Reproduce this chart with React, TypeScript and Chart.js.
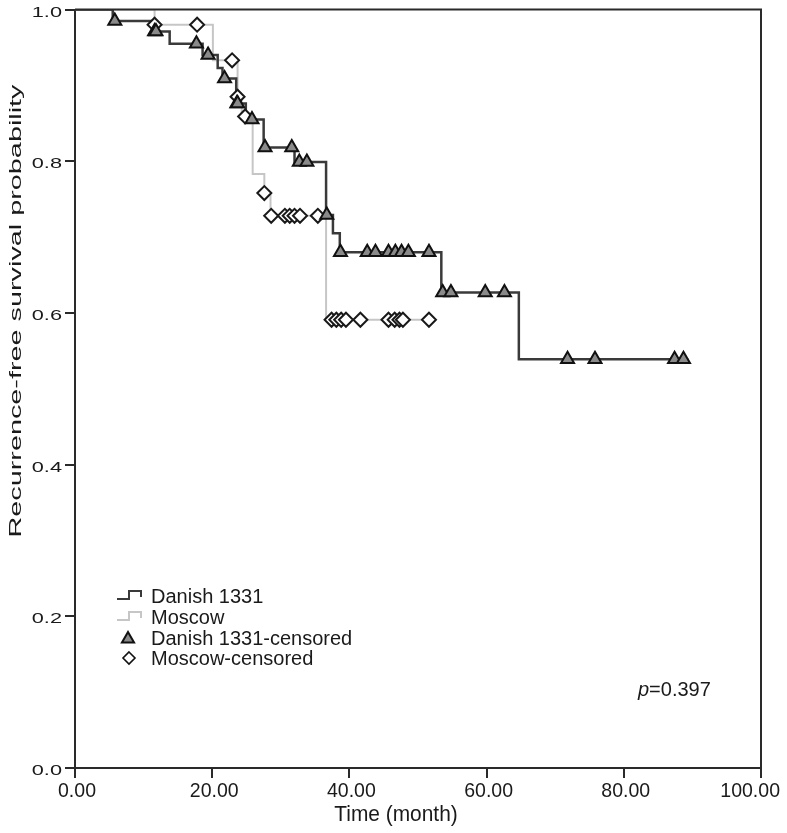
import React, { useEffect, useRef } from 'react';
import { Chart, registerables } from 'chart.js';

Chart.register(...registerables);

// ---- data ----
const xTicks = [0, 20, 40, 60, 80, 100];
const yTicks = [0, 0.2, 0.4, 0.6, 0.8, 1.0];

// Danish 1331: Kaplan-Meier step curve (time, survival after that time)
const danishTimes = [0, 5.5, 11.6, 13.8, 18.6, 20.8, 21.5, 23.5, 24.9, 27.5, 32.0, 36.6, 37.6, 38.6, 53.4, 64.7, 89.4];
const danishSurv = [1.0, 0.985, 0.971, 0.955, 0.94, 0.923, 0.909, 0.876, 0.855, 0.818, 0.799, 0.729, 0.705, 0.68, 0.627, 0.539, 0.539];
const danishCensored = [5.8, 11.6, 11.8, 17.7, 19.4, 21.8, 23.6, 23.7, 25.8, 27.7, 31.6, 32.7, 33.8, 36.7, 38.7, 42.6, 43.8, 45.7, 46.7, 47.6, 48.6, 51.6, 53.6, 54.8, 59.8, 62.6, 71.8, 75.8, 87.4, 88.7];

// Moscow
const moscowTimes = [0, 11.6, 20.1, 23.7, 24.3, 25.9, 27.6, 28.5, 36.6, 51.6];
const moscowSurv = [1.0, 0.98, 0.933, 0.885, 0.859, 0.783, 0.758, 0.728, 0.591, 0.591];
const moscowCensored = [11.6, 17.8, 22.9, 23.7, 24.8, 27.6, 28.6, 30.6, 31.3, 32.0, 32.8, 35.4, 37.4, 38.1, 38.8, 39.5, 41.6, 45.7, 46.6, 47.3, 47.8, 51.6];

const legendLabels = ['Danish 1331', 'Moscow', 'Danish 1331-censored', 'Moscow-censored'];
const pLetter = 'p';
const pValueText = '=0.397';
const xTitle = 'Time (month)';
const yTitle = 'Recurrence-free survival probability';

const DARK = '#3a3a3a';
const LIGHT = '#c6c6c6';
const TEXT = '#1a1a1a';

function survivalAt(times: number[], surv: number[], t: number): number {
  let v = surv[0];
  for (let i = 0; i < times.length; i++) {
    if (times[i] <= t + 1e-9) v = surv[i];
  }
  return v;
}

function drawTriangle(ctx: CanvasRenderingContext2D, x: number, y: number, r: number) {
  ctx.beginPath();
  ctx.moveTo(x, y - r);
  ctx.lineTo(x + r * 0.866, y + r * 0.5);
  ctx.lineTo(x - r * 0.866, y + r * 0.5);
  ctx.closePath();
  ctx.fillStyle = '#8a8a8a';
  ctx.fill();
  ctx.lineWidth = 2;
  ctx.strokeStyle = '#111';
  ctx.stroke();
}

function drawDiamond(ctx: CanvasRenderingContext2D, x: number, y: number, r: number) {
  ctx.beginPath();
  ctx.moveTo(x, y - r);
  ctx.lineTo(x + r, y);
  ctx.lineTo(x, y + r);
  ctx.lineTo(x - r, y);
  ctx.closePath();
  ctx.fillStyle = '#fff';
  ctx.fill();
  ctx.lineWidth = 1.6;
  ctx.strokeStyle = '#111';
  ctx.stroke();
}

const decorPlugin = {
  id: 'decor',
  afterDraw(chart: any) {
    const ctx: CanvasRenderingContext2D = chart.ctx;
    const area = chart.chartArea;
    const xs = chart.scales.x;
    const ys = chart.scales.y;
    ctx.save();

    // frame (top and right)
    ctx.strokeStyle = '#2a2a2a';
    ctx.lineWidth = 2;
    ctx.beginPath();
    ctx.moveTo(area.left, area.top);
    ctx.lineTo(area.right, area.top);
    ctx.lineTo(area.right, area.bottom);
    ctx.stroke();

    ctx.fillStyle = TEXT;

    // y tick labels (stretched)
    ctx.font = '15px "Liberation Sans", Arial, sans-serif';
    ctx.textAlign = 'right';
    ctx.textBaseline = 'middle';
    ys.ticks.forEach((tk: any) => {
      const py = ys.getPixelForValue(tk.value);
      ctx.save();
      ctx.translate(area.left - 13, py + 3);
      ctx.scale(1.45, 1);
      ctx.fillText(Number(tk.value).toFixed(1), 0, 0);
      ctx.restore();
    });

    // x tick labels (condensed)
    ctx.font = '21px "Liberation Sans", Arial, sans-serif';
    ctx.textAlign = 'center';
    const sx = 0.93;
    const maxRight = chart.width - 7;
    xs.ticks.forEach((tk: any) => {
      const label = Number(tk.value).toFixed(2);
      let px = xs.getPixelForValue(tk.value) + 2;
      const half = (ctx.measureText(label).width * sx) / 2;
      if (px + half > maxRight) px = maxRight - half;
      ctx.save();
      ctx.translate(px, area.bottom + 23);
      ctx.scale(sx, 1);
      ctx.fillText(label, 0, 0);
      ctx.restore();
    });

    // x title
    ctx.save();
    ctx.font = '22px "Liberation Sans", Arial, sans-serif';
    ctx.translate(area.left + 321, area.bottom + 47);
    ctx.scale(0.95, 1);
    ctx.fillText(xTitle, 0, 0);
    ctx.restore();

    // y title (rotated, stretched)
    ctx.save();
    ctx.font = '16px "Liberation Sans", Arial, sans-serif';
    ctx.translate(17, 311);
    ctx.rotate(-Math.PI / 2);
    ctx.scale(1.8, 1);
    ctx.textAlign = 'center';
    ctx.fillText(yTitle, 0, 0);
    ctx.restore();

    // legend
    const lx = area.left + 42;
    const tx = area.left + 76;
    const rowY = [596, 617, 638, 658];
    ctx.font = '20px "Liberation Sans", Arial, sans-serif';
    ctx.textAlign = 'left';
    ctx.textBaseline = 'middle';
    const drawStep = (cy: number, color: string) => {
      ctx.beginPath();
      ctx.moveTo(lx, cy + 3);
      ctx.lineTo(lx + 12, cy + 3);
      ctx.lineTo(lx + 12, cy - 5);
      ctx.lineTo(lx + 24, cy - 5);
      ctx.lineTo(lx + 24, cy + 1);
      ctx.strokeStyle = color;
      ctx.lineWidth = 2;
      ctx.stroke();
    };
    drawStep(rowY[0], DARK);
    drawStep(rowY[1], LIGHT);
    drawTriangle(ctx, lx + 11, rowY[2] + 1, 7);
    drawDiamond(ctx, lx + 12, rowY[3], 6);
    ctx.fillStyle = TEXT;
    legendLabels.forEach((lab, i) => ctx.fillText(lab, tx, rowY[i] + 1));

    // p-value
    ctx.font = 'italic 20px "Liberation Sans", Arial, sans-serif';
    const px0 = 638;
    const py0 = 690;
    ctx.fillText(pLetter, px0, py0);
    const w = ctx.measureText(pLetter).width;
    ctx.font = '20px "Liberation Sans", Arial, sans-serif';
    ctx.fillText(pValueText, px0 + w, py0);

    ctx.restore();
  },
};

export default function App() {
  const ref = useRef<HTMLCanvasElement | null>(null);

  useEffect(() => {
    document.body.style.margin = '0';
    const canvas = ref.current;
    if (!canvas) return;

    const danishLine = danishTimes.map((t, i) => ({ x: t, y: danishSurv[i] }));
    const moscowLine = moscowTimes.map((t, i) => ({ x: t, y: moscowSurv[i] }));
    const danishPts = danishCensored.map((t) => ({ x: t, y: survivalAt(danishTimes, danishSurv, t) }));
    const moscowPts = moscowCensored.map((t) => ({ x: t, y: survivalAt(moscowTimes, moscowSurv, t) }));

    const chart = new Chart(canvas, {
      type: 'scatter',
      data: {
        datasets: [
          {
            label: 'Danish 1331-censored',
            data: danishPts,
            showLine: false,
            pointStyle: 'triangle',
            pointRadius: 7.5,
            pointBackgroundColor: '#8a8a8a',
            pointBorderColor: '#111',
            pointBorderWidth: 2,
            order: 0,
          } as any,
          {
            label: 'Moscow-censored',
            data: moscowPts,
            showLine: false,
            pointStyle: 'rectRot',
            pointRadius: 7,
            pointBackgroundColor: '#fff',
            pointBorderColor: '#1a1a1a',
            pointBorderWidth: 2,
            order: 1,
          } as any,
          {
            label: 'Danish 1331',
            data: danishLine,
            showLine: true,
            stepped: 'before',
            borderColor: DARK,
            borderWidth: 2.5,
            pointRadius: 0,
            order: 2,
          } as any,
          {
            label: 'Moscow',
            data: moscowLine,
            showLine: true,
            stepped: 'before',
            borderColor: LIGHT,
            borderWidth: 2,
            pointRadius: 0,
            order: 3,
          } as any,
        ],
      },
      options: {
        animation: false,
        responsive: false,
        devicePixelRatio: 1,
        layout: { padding: { top: 8, right: 26, left: 0, bottom: 0 } },
        plugins: { legend: { display: false }, tooltip: { enabled: false } },
        scales: {
          x: {
            type: 'linear',
            min: 0,
            max: 100,
            afterBuildTicks: (s: any) => {
              s.ticks = xTicks.map((v) => ({ value: v }));
            },
            ticks: { display: false },
            grid: { drawOnChartArea: false, drawTicks: true, tickLength: 10, color: '#2a2a2a', lineWidth: 2 },
            border: { color: '#2a2a2a', width: 2 },
            afterFit: (s: any) => {
              s.height = 65;
            },
          },
          y: {
            type: 'linear',
            min: 0,
            max: 1,
            afterBuildTicks: (s: any) => {
              s.ticks = yTicks.map((v) => ({ value: v }));
            },
            ticks: { display: false },
            grid: { drawOnChartArea: false, drawTicks: true, tickLength: 10, color: '#2a2a2a', lineWidth: 2 },
            border: { color: '#2a2a2a', width: 2 },
            afterFit: (s: any) => {
              s.width = 75;
            },
          },
        },
      } as any,
      plugins: [decorPlugin],
    });

    return () => chart.destroy();
  }, []);

  return (
    <div style={{ width: 787, height: 833, background: '#fff' }}>
      <canvas ref={ref} width={787} height={833} style={{ display: 'block' }} />
    </div>
  );
}
